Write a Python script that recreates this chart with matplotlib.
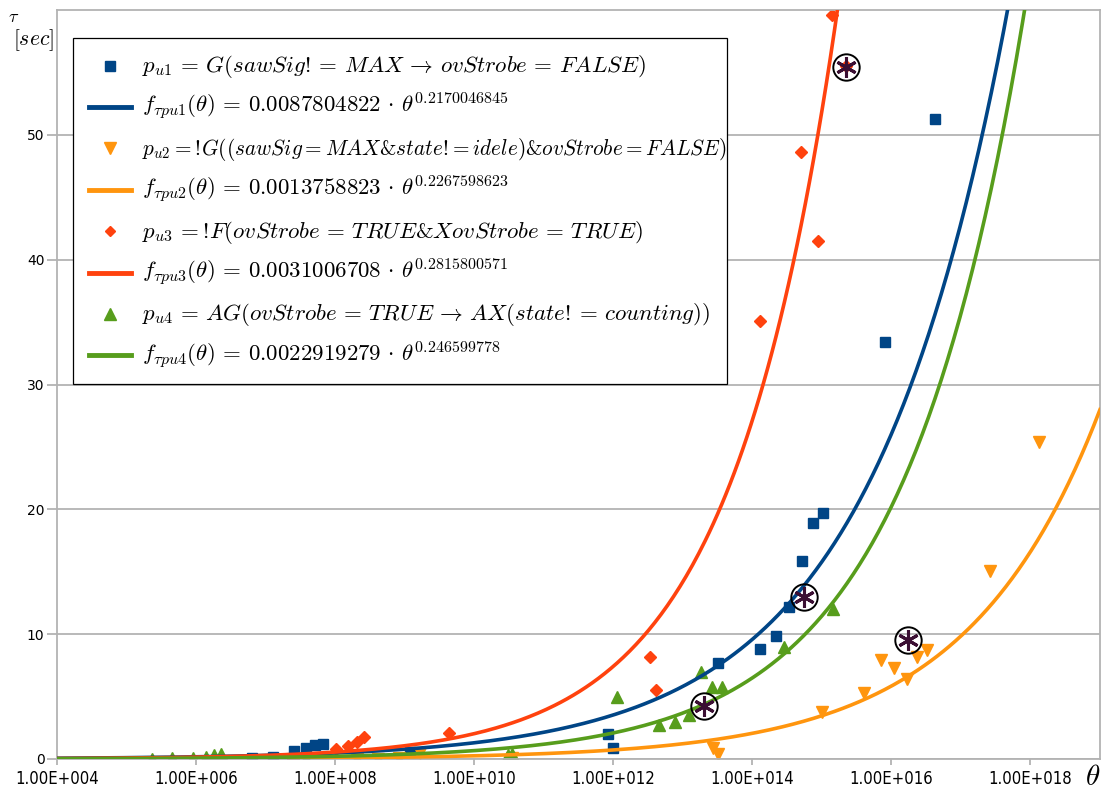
import numpy as np
import matplotlib.pyplot as plt
from matplotlib.ticker import FixedLocator, FuncFormatter, NullLocator
from matplotlib.lines import Line2D
from matplotlib.patches import Rectangle
from matplotlib.mathtext import MathTextParser

plt.rcParams['mathtext.fontset'] = 'cm'

# measured points: log10(theta), tau [sec]
pu1_logx = [6.81, 7.11, 7.41, 7.58, 7.71, 7.82, 9.08, 11.93, 12.0, 13.51, 14.11,
            14.34, 14.53, 14.71, 14.87, 15.01, 15.91, 16.62]
pu1_tau = [0.1, 0.2, 0.65, 0.9, 1.15, 1.2, 0.6, 1.98, 0.85, 7.72, 8.79,
           9.86, 12.2, 15.87, 18.94, 19.69, 33.4, 51.3]

pu2_logx = [8.31, 8.62, 8.92, 9.22, 10.54, 13.44, 13.51, 15.0, 15.61, 15.85,
            16.04, 16.22, 16.37, 16.51, 17.42, 18.12]
pu2_tau = [0.0, 0.0, 0.1, 0.5, 0.1, 0.9, 0.4, 3.8, 5.3, 7.9,
           7.3, 6.4, 8.2, 8.7, 15.1, 25.4]

pu3_logx = [7.40, 8.01, 8.19, 8.32, 8.41, 9.64, 12.53, 12.61, 14.11, 14.70,
            14.94, 15.14, 15.34]
pu3_tau = [0.0, 0.8, 1.07, 1.4, 1.8, 2.1, 8.2, 5.5, 35.1, 48.6,
           41.5, 59.6, 55.5]

pu4_logx = [5.36, 5.66, 5.96, 6.14, 6.26, 6.36, 7.58, 10.49, 10.55, 12.06,
            12.66, 12.89, 13.09, 13.26, 13.42, 13.56, 14.46, 15.16]
pu4_tau = [0.0, 0.05, 0.05, 0.15, 0.3, 0.4, 0.0, 0.3, 0.4, 5.0,
           2.7, 3.0, 3.55, 6.95, 5.8, 5.8, 9.0, 12.0]

mark_logx = [13.31, 14.74, 15.35, 16.24]
mark_tau = [4.25, 13.0, 55.4, 9.55]

# fitted curves tau = a * theta^b
fit_a = [0.0087804822, 0.0013758823, 0.0031006708, 0.0022919279]
fit_b = [0.2170046845, 0.2267598623, 0.2815800571, 0.246599778]

colors = ['#004586', '#ff950e', '#ff420e', '#579d1c']
markers = ['s', 'v', 'D', '^']
msizes = [7.5, 8, 6, 8]
leg_msizes = [7, 8, 5.5, 8]
pts_x = [pu1_logx, pu2_logx, pu3_logx, pu4_logx]
pts_y = [pu1_tau, pu2_tau, pu3_tau, pu4_tau]

pt_labels = [
    r'$p_{u1}\,=\,G(sawSig!\!\,=\,MAX\,\rightarrow\,ovStrobe\,=\,FALSE)$',
    r'$p_{u2} =!\!G((sawSig = MAX AMPstate!\! = idele)AMPovStrobe = FALSE)$',
    r'$p_{u3}\,=!\!F(ovStrobe\,=\,TRUE AMPXovStrobe\,=\,TRUE)$',
    r'$p_{u4}\,=\,AG(ovStrobe\,=\,TRUE\,\rightarrow\,AX(state!\!\,=\,counting))$',
]
fit_labels = [
    r'$f_{\tau pu1}(\theta)\,=\,0.0087804822\,\cdot\,\theta^{0.2170046845}$',
    r'$f_{\tau pu2}(\theta)\,=\,0.0013758823\,\cdot\,\theta^{0.2267598623}$',
    r'$f_{\tau pu3}(\theta)\,=\,0.0031006708\,\cdot\,\theta^{0.2815800571}$',
    r'$f_{\tau pu4}(\theta)\,=\,0.0022919279\,\cdot\,\theta^{0.246599778}$',
]
# the long p_u2 formula is squeezed to fit the box in the original
pt_sizes = [16.5, 15.3, 16.5, 16.5]


def safe_math(s):
    # mathtext is picky with & and !, try variants until one parses
    parser = MathTextParser('path')
    for amp in [r'\&', r'\mathrm{\&}', '&']:
        for bang in [r'!\!', '!', r'\mathrm{!}']:
            t = s.replace(' AMP', amp).replace('AMP', amp).replace(r'!\!', bang)
            try:
                parser.parse(t, dpi=100)
                return t
            except Exception:
                pass
    return s.replace('$', '').replace('\\', '')


pt_labels = [safe_math(s) for s in pt_labels]
fit_labels = [safe_math(s) for s in fit_labels]

grey = '#b3b3b3'
W, H = 1106, 792

fig = plt.figure(figsize=(W / 100, H / 100), dpi=100)
ax = fig.add_axes([57/W, 33/H, 1043/W, 749/H])

theta = np.logspace(4, 19, 500)
for i in range(4):
    ax.plot(np.power(10.0, pts_x[i]), pts_y[i], linestyle='none', marker=markers[i],
            ms=msizes[i], color=colors[i], zorder=2)
    ax.plot(theta, fit_a[i] * theta ** fit_b[i], color=colors[i], lw=2.6, zorder=3)

mx = np.power(10.0, mark_logx)
ax.plot(mx, mark_tau, linestyle='none', marker='o', ms=19, mfc='none',
        mec='black', mew=1.4, zorder=5)
ax.plot(mx, mark_tau, linestyle='none', marker=(6, 2, 0), ms=15,
        mec='#3b0f33', mew=2.2, zorder=6)

ax.set_xscale('log')
ax.set_xlim(1e4, 1e19)
ax.set_ylim(0, 60)
ax.xaxis.set_major_locator(FixedLocator([10.0 ** k for k in range(4, 19, 2)]))
ax.xaxis.set_minor_locator(NullLocator())
ax.xaxis.set_major_formatter(FuncFormatter(lambda v, p: '1.00E+%03d' % round(np.log10(v))))
ax.set_yticks([0, 10, 20, 30, 40, 50])

ax.grid(axis='y', color=grey, lw=1.3)
ax.set_axisbelow(True)
for s in ax.spines.values():
    s.set_color(grey)
    s.set_linewidth(1.3)
ax.tick_params(axis='y', length=7, width=1.3, color=grey, pad=2, labelsize=10)
ax.tick_params(axis='x', length=4, width=1.3, color=grey, pad=4, labelsize=12)
for t in ax.get_xticklabels():
    t.set_fontstretch('condensed')

# legend box drawn by hand, rows on a fixed baseline pitch
box = Rectangle((73/W, 1 - 384/H), 654/W, 346/H, transform=fig.transFigure,
                facecolor='white', edgecolor='black', lw=0.9, zorder=10)
fig.add_artist(box)
for k in range(8):
    i = k // 2
    base = 72 + 41.4 * k
    yc = 1 - (base - 6.5) / H
    if k % 2 == 0:
        h = Line2D([110/W], [yc], transform=fig.transFigure, linestyle='none',
                   marker=markers[i], ms=leg_msizes[i], color=colors[i], zorder=11)
        txt, fs = pt_labels[i], pt_sizes[i]
    else:
        h = Line2D([89/W, 131/W], [yc, yc], transform=fig.transFigure,
                   color=colors[i], lw=3.5, zorder=11)
        txt, fs = fit_labels[i], 16.5
    fig.add_artist(h)
    fig.text(142/W, 1 - base/H, txt, fontsize=fs, ha='left', va='baseline', zorder=12)

fig.text(14/W, 1 - 17/H, r'$\tau$', fontsize=13, ha='center', va='center')
fig.text(33/W, 1 - 40/H, r'$[sec]$', fontsize=15.5, ha='center', va='center')
fig.text(1093/W, 1 - 777/H, r'$\theta$', fontsize=21, ha='center', va='center')

plt.savefig('out.png', dpi=100)
